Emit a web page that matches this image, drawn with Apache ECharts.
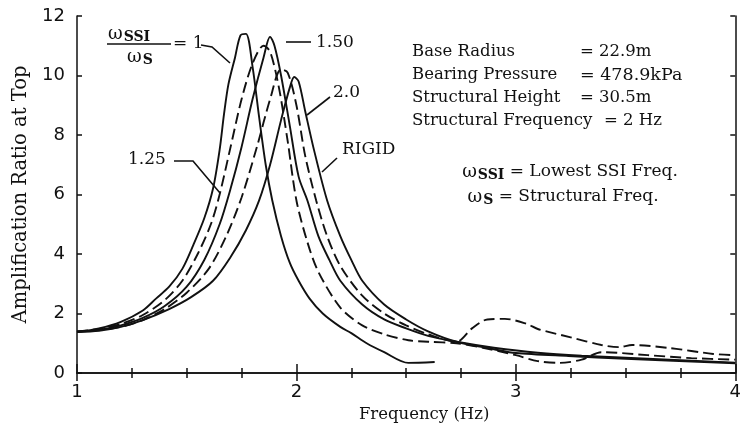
<!DOCTYPE html>
<html lang="en">
<head>
  <meta charset="UTF-8">
  <title>Amplification Ratio</title>
  <style>
    * { margin: 0; padding: 0; }
    body { background: #ffffff; }
    #chart { width: 744px; height: 435px; }
  </style>
</head>
<body>
  <div id="chart"></div>
  <script src="https://cdn.jsdelivr.net/npm/echarts@6/dist/echarts.min.js"></script>
  <script type="text/javascript">
  // frequency (Hz), amplification ratio
  var curve1 = [[1.0,1.38],[1.1,1.5],[1.2,1.72],[1.3,2.1],[1.36,2.5],[1.42,2.9],[1.48,3.5],[1.53,4.3],[1.58,5.2],[1.62,6.2],[1.65,7.5],[1.67,8.7],[1.69,9.7],[1.72,10.6],[1.745,11.35],[1.77,11.4],
    [1.80,10.3],[1.83,8.6],[1.86,7.0],[1.89,5.8],[1.93,4.6],[1.97,3.7],[2.01,3.1],[2.06,2.5],[2.12,2.0],[2.2,1.55],[2.25,1.34],[2.32,1.0],[2.4,0.7],[2.51,0.34],[2.63,0.37]];
  var curve125 = [[1.0,1.4],[1.1,1.48],[1.2,1.65],[1.3,1.95],[1.4,2.45],[1.48,3.1],[1.55,4.0],[1.61,5.0],[1.65,6.0],[1.7,7.6],[1.75,9.2],[1.8,10.4],[1.85,11.0],[1.88,10.8],[1.92,9.6],[1.96,7.8],[2.0,5.8],[2.05,4.4],[2.1,3.4],[2.2,2.2],[2.3,1.6],[2.4,1.3],[2.51,1.1],[2.6,1.05],[2.73,1.0],[2.85,0.85],[3.0,0.6],[3.1,0.4],[3.2,0.34],[3.3,0.45],[3.39,0.7],[3.6,0.6],[3.8,0.5],[4.0,0.45]];
  var curve150 = [[1.0,1.38],[1.1,1.45],[1.2,1.6],[1.3,1.85],[1.4,2.25],[1.5,2.9],[1.58,3.8],[1.65,5.0],[1.7,6.2],[1.75,7.6],[1.8,9.2],[1.85,10.6],[1.88,11.3],[1.9,11.0],[1.93,10.0],[1.97,8.3],[2.01,6.6],[2.05,5.8],[2.1,4.6],[2.15,3.8],[2.2,3.1],[2.3,2.3],[2.4,1.8],[2.5,1.5],[2.6,1.25],[2.73,1.05],[2.9,0.85],[3.1,0.68],[3.3,0.58],[3.6,0.48],[4.0,0.35]];
  var curve200 = [[1.0,1.4],[1.1,1.44],[1.2,1.55],[1.3,1.78],[1.4,2.15],[1.5,2.7],[1.6,3.5],[1.68,4.6],[1.75,5.9],[1.82,7.6],[1.88,9.2],[1.93,10.2],[1.96,10.1],[2.0,9.0],[2.04,7.3],[2.09,5.8],[2.14,4.6],[2.2,3.6],[2.3,2.6],[2.4,2.0],[2.5,1.6],[2.6,1.3],[2.73,1.05],[2.8,1.5],[2.87,1.8],[2.95,1.82],[3.05,1.65],[3.1,1.48],[3.25,1.2],[3.39,0.94],[3.47,0.87],[3.53,0.94],[3.7,0.84],[3.9,0.64],[4.0,0.6]];
  var curveRigid = [[1.0,1.38],[1.1,1.42],[1.2,1.55],[1.3,1.78],[1.42,2.15],[1.52,2.55],[1.62,3.1],[1.7,3.9],[1.77,4.8],[1.83,5.8],[1.88,7.0],[1.93,8.5],[1.97,9.6],[1.99,9.95],[2.01,9.8],[2.04,8.8],[2.08,7.5],[2.14,5.8],[2.2,4.6],[2.25,3.8],[2.3,3.1],[2.4,2.3],[2.5,1.8],[2.6,1.4],[2.73,1.05],[2.9,0.8],[3.0,0.67],[3.24,0.57],[3.5,0.48],[4.0,0.33]];

  var serif = '"DejaVu Serif", "Liberation Serif", serif';
  var black = '#111111';

  function line(data, dashed) {
    return {
      type: 'line',
      data: data,
      showSymbol: false,
      smooth: 0.3,
      lineStyle: { color: black, width: 1.9, type: dashed ? [11, 5] : 'solid' }
    };
  }

  function txt(x, y, text, extra) {
    var s = { text: text, font: '16.5px ' + serif, fill: black, textVerticalAlign: 'middle' };
    for (var k in extra) s[k] = extra[k];
    return { type: 'text', x: x, y: y, style: s, z: 10 };
  }

  function seg(points) {
    return { type: 'polyline', shape: { points: points }, style: { stroke: black, lineWidth: 1.6, fill: null }, z: 10 };
  }

  var sub = { fontSize: 14, fontFamily: serif, fontWeight: 'bold', padding: [6, 0, 0, 1] };
  var om = { fontSize: 18, fontFamily: serif };
  var rest = { fontSize: 17, fontFamily: serif };

  function main () {
    var chart = echarts.init(document.getElementById('chart'));
    var axisLine = { show: true, lineStyle: { color: black, width: 1.5 } };
    var option = {
      animation: false,
      backgroundColor: '#ffffff',
      grid: { left: 77, right: 3, top: 16, bottom: 62 },
      xAxis: [{
        type: 'value', min: 1, max: 4, interval: 1,
        axisLine: axisLine,
        axisTick: { inside: true, length: 9, lineStyle: { color: black, width: 1.5 } },
        minorTick: { show: true, splitNumber: 4, length: 5, lineStyle: { color: black, width: 1.5 } },
        splitLine: { show: false },
        axisLabel: { color: black, fontSize: 18, fontFamily: '"DejaVu Sans", sans-serif', margin: 10 },
        name: 'Frequency (Hz)', nameLocation: 'middle', nameGap: 33,
        nameTextStyle: { color: black, fontSize: 16.5, fontFamily: serif, padding: [0, 0, 0, 36] }
      }, {
        type: 'value', min: 1, max: 4, interval: 1, position: 'top',
        axisLine: axisLine,
        axisTick: { inside: true, length: 8, lineStyle: { color: black, width: 1.5 } },
        minorTick: { show: true, splitNumber: 4, length: 5, lineStyle: { color: black, width: 1.5 } },
        splitLine: { show: false },
        axisLabel: { show: false }
      }],
      yAxis: [{
        type: 'value', min: 0, max: 12, interval: 2,
        axisLine: axisLine,
        axisTick: { inside: true, length: 5, lineStyle: { color: black, width: 1.5 } },
        splitLine: { show: false },
        axisLabel: { color: black, fontSize: 18, fontFamily: '"DejaVu Sans", sans-serif', margin: 12 },
        name: 'Amplification Ratio at Top', nameLocation: 'middle', nameGap: 45,
        nameTextStyle: { color: black, fontSize: 19.5, fontFamily: serif }
      }, {
        type: 'value', min: 0, max: 12, interval: 2, position: 'right',
        axisLine: axisLine,
        axisTick: { inside: true, length: 5, lineStyle: { color: black, width: 1.5 } },
        splitLine: { show: false },
        axisLabel: { show: false }
      }],
      series: [
        line(curve1, false),
        line(curve125, true),
        line(curve150, false),
        line(curve200, true),
        line(curveRigid, false)
      ],
      graphic: [
        // ratio fraction label
        txt(108, 34, '{o|ω}{s|SSI}', { rich: { o: om, s: sub } }),
        seg([[107, 44], [171, 44]]),
        txt(127, 57, '{o|ω}{s|S}', { rich: { o: om, s: sub } }),
        txt(173, 44, '= 1', { font: '17px ' + serif }),
        seg([[201, 45], [212, 47], [230, 63]]),
        txt(316, 43, '1.50', { font: '17px ' + serif }),
        seg([[286, 42], [311, 42]]),
        txt(333, 93, '2.0', { font: '17px ' + serif }),
        seg([[330, 97], [307, 115]]),
        txt(128, 160, '1.25', { font: '17px ' + serif }),
        seg([[174, 161], [193, 161], [220, 193]]),
        txt(342, 150, 'RIGID', { font: '17px ' + serif }),
        seg([[337, 158], [322, 172]]),
        // parameter block
        txt(412, 52, 'Base Radius'),
        txt(580, 52, '= 22.9m'),
        txt(412, 75, 'Bearing Pressure'),
        txt(580, 75, '= 478.9kPa', { font: '17.5px ' + serif }),
        txt(412, 98, 'Structural Height'),
        txt(580, 98, '= 30.5m'),
        txt(412, 121, 'Structural Frequency'),
        txt(604, 121, '= 2 Hz'),
        txt(570, 172, '{o|ω}{s|SSI}{t| = Lowest SSI Freq.}', { textAlign: 'center', rich: { o: om, s: sub, t: rest } }),
        txt(563, 197, '{o|ω}{s|S}{t| = Structural Freq.}', { textAlign: 'center', rich: { o: om, s: sub, t: rest } })
      ]
    };
    chart.setOption(option);
  }

  window.addEventListener('load', main);
  </script>
</body>
</html>
